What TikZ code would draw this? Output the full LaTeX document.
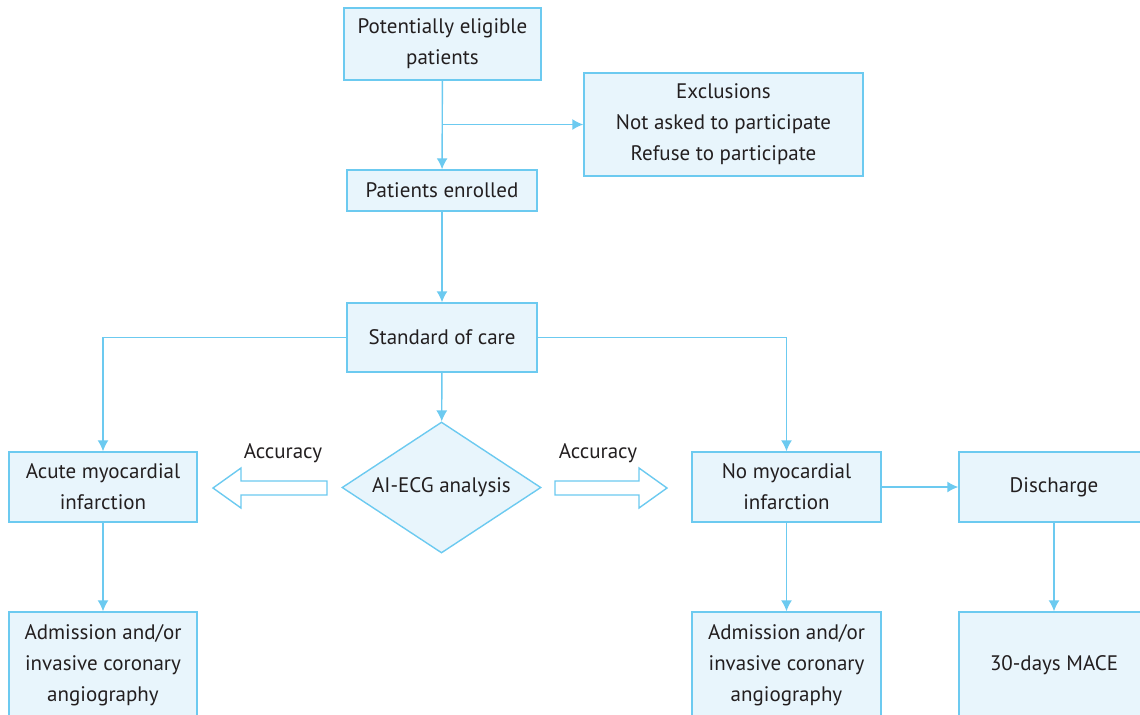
\documentclass[tikz,border=0pt]{standalone}
\usepackage{fontspec}
\setmainfont{PT Sans}
\usetikzlibrary{shapes.geometric,arrows.meta}
\definecolor{lineblue}{HTML}{6CCAF0}
\definecolor{boxfill}{HTML}{E8F5FC}
\definecolor{txtgray}{HTML}{231F20}
\tikzset{
  box/.style={draw=lineblue, fill=boxfill, line width=0.7pt, align=center, inner sep=0pt,
    text=txtgray, font=\fontsize{10.5}{15.5}\selectfont},
  link/.style={draw=lineblue, line width=0.7pt, -{Latex[length=5.5pt,width=5.5pt]}},
  bigarrow/.style={draw=lineblue, line width=0.7pt, fill=white},
  lbl/.style={text=txtgray, font=\fontsize{10.5}{15.5}\selectfont, inner sep=0pt}
}

\begin{document}
\begin{tikzpicture}[x=0.5pt, y=-0.5pt]
  \useasboundingbox (0,0) rectangle (1140,714);
  \clip (0,0) rectangle (1140,714);

  \node[box, minimum width=98.5pt, minimum height=36pt] (elig) at (442.5,44) {Potentially eligible\\patients};
  \node[box, minimum width=139.5pt, minimum height=51.5pt] (excl) at (723.5,124.5) {Exclusions\\Not asked to participate\\Refuse to participate};
  \node[box, minimum width=95pt, minimum height=20.5pt] (enrol) at (442,190.5) {Patients enrolled};
  \node[box, minimum width=95pt, minimum height=34.5pt] (care) at (442,337.5) {Standard of care};
  \node[box, diamond, aspect=1.52, minimum width=99.5pt, minimum height=65.5pt] (ecg) at (441.5,487.5) {AI-ECG analysis};

  \node[box, minimum width=94pt, minimum height=35pt] (acute) at (103,487) {Acute myocardial\\infarction};
  \node[box, minimum width=94.5pt, minimum height=35pt] (nomi) at (786.5,487) {No myocardial\\infarction};
  \node[box, minimum width=95pt, minimum height=35pt] (disch) at (1054,487) {Discharge};

  \node[box, minimum width=94pt, minimum height=53pt] (admL) at (103,665) {Admission and/or\\invasive coronary\\angiography};
  \node[box, minimum width=94.5pt, minimum height=53pt] (admR) at (786.5,665) {Admission and/or\\invasive coronary\\angiography};
  \node[box, minimum width=95pt, minimum height=53pt] (mace) at (1054,665) {30-days MACE};

  \node[lbl] (accL) at (283,453) {Accuracy};
  \node[lbl] (accR) at (598,453) {Accuracy};

  % connectors
  \draw[link] (elig) -- (enrol);
  \draw[link] (elig.south |- excl) -- (excl.west);
  \draw[link] (enrol) -- (care);
  \draw[link] (care) -- (ecg);
  \draw[link] (care.west) -| (acute);
  \draw[link] (care.east) -| (nomi);
  \draw[link] (nomi) -- (disch);
  \draw[link] (acute) -- (admL);
  \draw[link] (nomi) -- (admR);
  \draw[link] (disch) -- (mace);

  % hollow accuracy arrows
  \draw[bigarrow] (327,481) -- (241,481) -- (241,468) -- (213,488) -- (241,508) -- (241,495) -- (327,495) -- cycle;
  \draw[bigarrow] (555,481) -- (639,481) -- (639,468) -- (667,488) -- (639,508) -- (639,495) -- (555,495) -- cycle;
\end{tikzpicture}
\end{document}
